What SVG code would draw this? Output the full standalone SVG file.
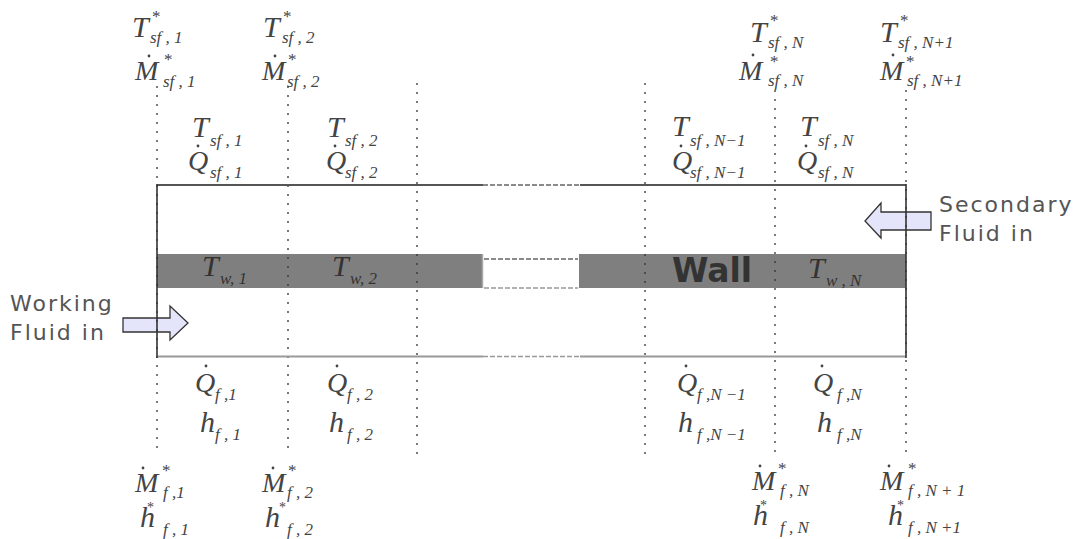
<svg xmlns="http://www.w3.org/2000/svg" width="1077" height="539" viewBox="0 0 1077 539">
<style>
text{fill:#444;font-family:"Liberation Serif","DejaVu Serif",serif;font-style:italic}
.b{font-size:30px}
.m{font-size:28px}
.s{font-size:17px}
.st{font-size:17px;font-style:normal}
.st2{font-size:14px;font-style:normal}
.lbl{font-family:"DejaVu Sans",sans-serif;font-style:normal;font-size:22px;letter-spacing:2px;fill:#555}
.wall{font-family:"DejaVu Sans",sans-serif;font-style:normal;font-weight:bold;font-size:33px;fill:#333}
.w{fill:#333}
.dot{fill:#444}
.grid{stroke:#333;stroke-width:1.3;stroke-dasharray:2 7;fill:none}
.arrow{fill:#e4e4fa;stroke:#333;stroke-width:1.3}
</style>
<rect x="0" y="0" width="1077" height="539" fill="#fff"/>
<g id="wall">
<rect x="157" y="254" width="326" height="34" fill="#7f7f7f"/>
<line x1="482.5" y1="254" x2="482.5" y2="288" stroke="#a8a8a8" stroke-width="1.5"/>
<rect x="579" y="254" width="327" height="34" fill="#7f7f7f"/>
<line x1="484" y1="259" x2="578" y2="259" stroke="#666" stroke-width="1.3" stroke-dasharray="5 2"/>
<line x1="484" y1="288" x2="578" y2="288" stroke="#999" stroke-width="1.3" stroke-dasharray="5 2"/>
<text class="wall" x="672" y="282">Wall</text>
</g>
<g id="arrows">
<polygon class="arrow" points="123,318 170,318 170,306 188,323 170,340 170,332 123,332"/>
<polygon class="arrow" points="931,212 881,212 881,203 865,221 881,238 881,230 931,230"/>
</g>
<g id="connectors">
<line class="grid" x1="157" y1="86" x2="157" y2="455"/>
<line class="grid" x1="288" y1="86" x2="288" y2="455"/>
<line class="grid" x1="417" y1="83" x2="417" y2="455"/>
<line class="grid" x1="645" y1="83" x2="645" y2="455"/>
<line class="grid" x1="775" y1="90" x2="775" y2="455"/>
<line class="grid" x1="906" y1="90" x2="906" y2="455"/>
</g>
<g id="channel">
<line x1="157" y1="185" x2="483" y2="185" stroke="#555" stroke-width="2"/>
<line x1="483" y1="185" x2="580" y2="185" stroke="#666" stroke-width="1.3" stroke-dasharray="5 2"/>
<line x1="580" y1="185" x2="906" y2="185" stroke="#555" stroke-width="2"/>
<line x1="157" y1="356.5" x2="483" y2="356.5" stroke="#999" stroke-width="2"/>
<line x1="483" y1="356.5" x2="580" y2="356.5" stroke="#999" stroke-width="1.3" stroke-dasharray="5 2"/>
<line x1="580" y1="356.5" x2="906" y2="356.5" stroke="#999" stroke-width="2"/>
<line x1="157" y1="184" x2="157" y2="358" stroke="#333" stroke-width="1.6"/>
<line x1="906" y1="184" x2="906" y2="358" stroke="#333" stroke-width="1.6"/>
</g>
<g id="label-working">
<text class="lbl" x="10" y="311">Working</text>
<text class="lbl" x="10" y="340">Fluid in</text>
</g>
<g id="label-secondary">
<text class="lbl" x="939" y="212">Secondary</text>
<text class="lbl" x="939" y="241">Fluid in</text>
</g>
<g id="top-1">
<text class="b" x="132" y="37">T</text><text class="st" x="152" y="22">*</text><text class="s" x="150" y="43">sf , 1</text>
<text class="m" x="135" y="80">M</text><circle class="dot" cx="149" cy="56" r="1.4"/><text class="st" x="164" y="65">*</text><text class="s" x="163" y="87">sf , 1</text>
</g>
<g id="top-2">
<text class="b" x="263" y="37">T</text><text class="st" x="283" y="22">*</text><text class="s" x="282" y="43">sf , 2</text>
<text class="m" x="262" y="80">M</text><circle class="dot" cx="275" cy="56" r="1.4"/><text class="st" x="288" y="65">*</text><text class="s" x="287" y="87">sf , 2</text>
</g>
<g id="top-N">
<text class="b" x="750" y="42">T</text><text class="st" x="770" y="26">*</text><text class="s" x="768" y="48">sf , N</text>
<text class="m" x="739" y="80">M</text><circle class="dot" cx="753" cy="55" r="1.4"/><text class="st" x="770" y="67">*</text><text class="s" x="768" y="86">sf , N</text>
</g>
<g id="top-N1">
<text class="b" x="880" y="42">T</text><text class="st" x="900" y="26">*</text><text class="s" x="898" y="48">sf , N+1</text>
<text class="m" x="880" y="80">M</text><circle class="dot" cx="893" cy="55" r="1.4"/><text class="st" x="906" y="67">*</text><text class="s" x="907" y="86">sf , N+1</text>
</g>
<g id="sf-1">
<text class="b" x="192" y="137">T</text><text class="s" x="210" y="146">sf , 1</text>
<text class="m" x="188" y="170">Q</text><circle class="dot" cx="198" cy="146" r="1.4"/><text class="s" x="210" y="178">sf , 1</text>
</g>
<g id="sf-2">
<text class="b" x="327" y="137">T</text><text class="s" x="345" y="146">sf , 2</text>
<text class="m" x="326" y="170">Q</text><circle class="dot" cx="335" cy="146" r="1.4"/><text class="s" x="345" y="178">sf , 2</text>
</g>
<g id="sf-N-1">
<text class="b" x="672" y="136">T</text><text class="s" x="690" y="146">sf , N−1</text>
<text class="m" x="672" y="170">Q</text><circle class="dot" cx="681" cy="146" r="1.4"/><text class="s" x="690" y="178">sf , N−1</text>
</g>
<g id="sf-N">
<text class="b" x="800" y="136">T</text><text class="s" x="818" y="146">sf , N</text>
<text class="m" x="797" y="170">Q</text><circle class="dot" cx="806" cy="146" r="1.4"/><text class="s" x="818" y="178">sf , N</text>
</g>
<g id="wall-1">
<text class="b w" x="202" y="276">T</text><text class="s w" x="220" y="284">w, 1</text>
</g>
<g id="wall-2">
<text class="b w" x="332" y="276">T</text><text class="s w" x="350" y="284">w, 2</text>
</g>
<g id="wall-N">
<text class="b w" x="808" y="278">T</text><text class="s w" x="826" y="286">w , N</text>
</g>
<g id="f-1">
<text class="m" x="195" y="392">Q</text><circle class="dot" cx="206" cy="366" r="1.4"/><text class="s" x="215" y="400">f ,1</text>
<text class="b" x="200" y="432">h</text><text class="s" x="215" y="440">f , 1</text>
</g>
<g id="f-2">
<text class="m" x="327" y="392">Q</text><circle class="dot" cx="337" cy="366" r="1.4"/><text class="s" x="347" y="400">f , 2</text>
<text class="b" x="329" y="432">h</text><text class="s" x="347" y="440">f , 2</text>
</g>
<g id="f-N-1">
<text class="m" x="677" y="392">Q</text><circle class="dot" cx="686" cy="366" r="1.4"/><text class="s" x="697" y="400">f ,N −1</text>
<text class="b" x="678" y="432">h</text><text class="s" x="697" y="440">f ,N −1</text>
</g>
<g id="f-N">
<text class="m" x="813" y="392">Q</text><circle class="dot" cx="822" cy="366" r="1.4"/><text class="s" x="837" y="400">f ,N</text>
<text class="b" x="817" y="432">h</text><text class="s" x="837" y="440">f ,N</text>
</g>
<g id="bottom-1">
<text class="m" x="135" y="492">M</text><circle class="dot" cx="143" cy="468" r="1.4"/><text class="st" x="162" y="476">*</text><text class="s" x="163" y="498">f ,1</text>
<text class="b" x="140" y="527">h</text><text class="st2" x="147" y="512">*</text><text class="s" x="163" y="535">f , 1</text>
</g>
<g id="bottom-2">
<text class="m" x="262" y="492">M</text><circle class="dot" cx="273" cy="468" r="1.4"/><text class="st" x="288" y="476">*</text><text class="s" x="287" y="498">f , 2</text>
<text class="b" x="265" y="527">h</text><text class="st2" x="279" y="512">*</text><text class="s" x="287" y="535">f , 2</text>
</g>
<g id="bottom-N">
<text class="m" x="752" y="490">M</text><circle class="dot" cx="760" cy="466" r="1.4"/><text class="st" x="778" y="474">*</text><text class="s" x="780" y="496">f , N</text>
<text class="b" x="753" y="525">h</text><text class="st2" x="760" y="510">*</text><text class="s" x="780" y="533">f , N</text>
</g>
<g id="bottom-N1">
<text class="m" x="880" y="490">M</text><circle class="dot" cx="889" cy="466" r="1.4"/><text class="st" x="908" y="474">*</text><text class="s" x="908" y="496">f , N + 1</text>
<text class="b" x="888" y="525">h</text><text class="st2" x="897" y="510">*</text><text class="s" x="908" y="533">f , N +1</text>
</g>
</svg>
